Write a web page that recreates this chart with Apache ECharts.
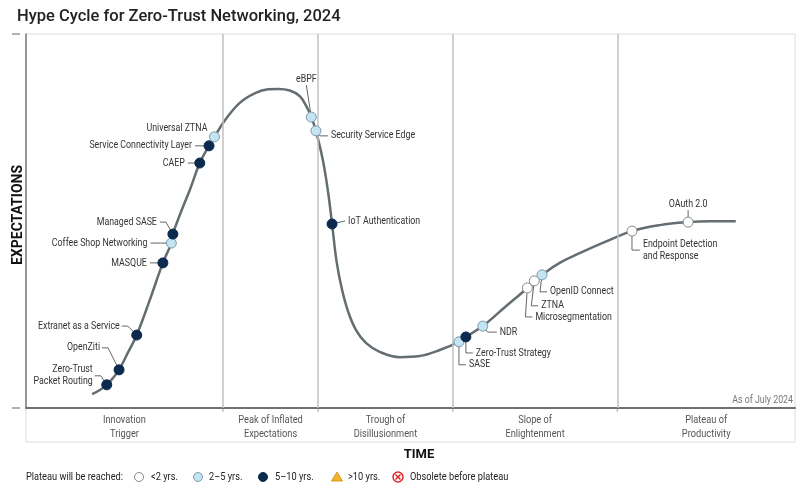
<!DOCTYPE html>
<html><head><meta charset="utf-8">
<script src="https://cdn.jsdelivr.net/npm/echarts@6.0.0/dist/echarts.min.js"></script>
<style>html,body{margin:0;padding:0;background:#fff}#c{width:800px;height:489px}</style>
</head><body><div id="c"></div>
<script>
// ---- data (time / expectations on an abstract 0–100 scale) ----
const curveTime = [8.6,9.6,10.5,11.3,12.1,13.3,14.4,16.1,17.8,18.9,19.1,20.0,21.3,22.6,23.8,24.5,25.9,27.8,29.8,31.5,32.8,34.3,35.6,36.5,37.1,37.7,38.6,39.3,39.8,40.4,41.1,41.9,42.9,44.2,46.0,48.6,51.2,53.8,56.3,57.2,59.4,62.3,65.2,66.1,67.1,69.4,72.0,75.3,78.8,82.4,86.1,89.0,92.3];
const curveExp  = [3.7,4.8,6.2,8.0,10.2,15.0,19.5,28.9,38.8,44.1,46.5,51.6,58.3,65.5,70.1,72.5,77.0,81.6,84.2,85.2,85.3,84.9,83.4,80.5,77.8,74.1,66.3,57.5,49.2,39.0,31.6,25.7,20.9,17.4,15.0,13.6,13.9,15.5,17.7,19.0,21.9,27.0,32.1,34.0,35.6,38.8,41.4,44.4,47.3,48.9,49.7,49.9,49.9];

const techNames = ['Zero-Trust\nPacket Routing','OpenZiti','Extranet as a Service','MASQUE','Coffee Shop Networking','Managed SASE','CAEP','Service Connectivity Layer','Universal ZTNA','eBPF','Security Service Edge','IoT Authentication','SASE','Zero-Trust Strategy','NDR','Microsegmentation','ZTNA','OpenID Connect','Endpoint Detection\nand Response','OAuth 2.0'];
const techTime = [10.5,12.1,14.4,17.8,18.9,19.1,22.6,23.8,24.5,37.1,37.7,39.8,56.3,57.2,59.4,65.2,66.1,67.1,78.8,86.1];
const techExp  = [6.2,10.2,19.5,38.8,44.1,46.5,65.5,70.1,72.5,77.8,74.1,49.2,17.7,19.0,21.9,32.1,34.0,35.6,47.3,49.7];
// plateau category: 0 = <2 yrs, 1 = 2–5 yrs, 2 = 5–10 yrs
const techPlateau = [2,2,2,2,1,2,2,2,1,1,1,2,1,2,1,0,0,1,0,0];

const phaseNames = ['Innovation\nTrigger','Peak of Inflated\nExpectations','Trough of\nDisillusionment','Slope of\nEnlightenment','Plateau of\nProductivity'];
const phaseBounds = [25.6, 38.0, 55.5, 76.9];
const legendTitle = 'Plateau will be reached:';
const legendLabels = ['<2 yrs.','2\u20135 yrs.','5\u201310 yrs.','>10 yrs.','Obsolete before plateau'];

// ---- styling / label layout (not data) ----
const FONT = "Roboto, sans-serif";
const SQ = 0.84; // horizontal condensing of the small labels
const fills = ['#ffffff','#c3e4f3','#0b2a4e'];
const strokes = ['#8a8a8a','#7f9ca8','#0b2a4e'];
const labelLayouts = [
  {lead:[[0,0],[-6,-9],[-12,-9]], t:[-14,-9], a:'right'},
  {lead:[[0,0],[-11,-22],[-17,-22]], t:[-19,-22], a:'right'},
  {lead:[[0,0],[-9,-9],[-15,-9]], t:[-17,-9], a:'right'},
  {lead:[[0,0],[-13,0]], t:[-16,0], a:'right'},
  {lead:[[0,0],[-21,0]], t:[-24,0], a:'right'},
  {lead:[[0,0],[-7,-12],[-13,-12]], t:[-16,-12], a:'right'},
  {lead:[[0,0],[-12,0]], t:[-15,0], a:'right'},
  {lead:[[0,0],[-14,0]], t:[-17,0], a:'right'},
  {lead:[], t:[-7,-8], a:'right'},
  {lead:[[0,0],[-5,-32]], t:[-5,-38], a:'center'},
  {lead:[[0,0],[4,5],[12,5]], t:[15,5], a:'left'},
  {lead:[[0,0],[13,-3]], t:[16,-3], a:'left'},
  {lead:[[0,0],[0,23],[7,23]], t:[10,23], a:'left'},
  {lead:[[0,0],[0,16],[7,16]], t:[10,16], a:'left'},
  {lead:[[0,0],[5,6],[14,6]], t:[17,6], a:'left'},
  {lead:[[0,0],[-2,29],[5,29]], t:[8,29], a:'left'},
  {lead:[[0,0],[-3,25],[4,25]], t:[7,25], a:'left'},
  {lead:[[0,0],[-2,17],[5,17]], t:[8,17], a:'left'},
  {lead:[[0,0],[0,19],[8,19]], t:[11,19], a:'left'},
  {lead:[[0,0],[0,-12]], t:[0,-18], a:'center'}
];

const chart = echarts.init(document.getElementById('c'), null, {renderer:'canvas'});
const GRID = {left:26, right:5, top:34, bottom:81};

chart.setOption({
  animation:false,
  backgroundColor:'#fff',
  title:{text:'Hype Cycle for Zero-Trust Networking, 2024', left:12, top:3,
    textStyle:{fontFamily:'Roboto', fontSize:16.5, fontWeight:500, color:'#222'}},
  grid:{left:GRID.left, right:GRID.right, top:GRID.top, bottom:GRID.bottom, show:true, borderColor:'#dddddd', borderWidth:1},
  xAxis:{type:'value', min:0, max:100, axisLabel:{show:false}, axisTick:{show:false}, splitLine:{show:false},
    axisLine:{show:true, onZero:false, lineStyle:{color:'#707070', width:2}}},
  yAxis:{type:'value', min:0, max:100, axisLabel:{show:false}, axisTick:{show:false}, splitLine:{show:false},
    axisLine:{show:true, onZero:false, lineStyle:{color:'#7a7a7a', width:1.5}}},
  series:[
    {type:'line', silent:true, symbol:'none', smooth:0.4, z:2,
     data: curveTime.map((t,i)=>[t, curveExp[i]]),
     lineStyle:{color:'#646d71', width:2.5},
     markLine:{silent:true, symbol:'none', label:{show:false},
       lineStyle:{color:'#c2c2c2', width:1.5, type:'solid'},
       data: phaseBounds.map(b=>({xAxis:b}))}},
    {type:'custom', z:5,
     data: techTime.map((t,i)=>[t, techExp[i], techPlateau[i]]),
     renderItem:function(params, api){
       const i = params.dataIndex;
       const p = api.coord([api.value(0), api.value(1)]);
       const cat = api.value(2);
       const L = labelLayouts[i];
       const ch = [];
       if (L.lead.length > 1) ch.push({type:'polyline', shape:{points:L.lead.map(d=>[p[0]+d[0], p[1]+d[1]])},
         style:{stroke:'#666', lineWidth:1, fill:null}});
       ch.push({type:'circle', shape:{cx:p[0], cy:p[1], r:5}, style:{fill:fills[cat], stroke:strokes[cat], lineWidth:1}});
       ch.push({type:'text', x:p[0]+L.t[0], y:p[1]+L.t[1], scaleX:SQ,
         style:{text:techNames[i], align:L.a, verticalAlign:'middle', fontFamily:FONT, fontSize:10.5, lineHeight:12, fill:'#333'}});
       return {type:'group', children:ch};
     }}
  ]
});

// ---- decorations built from the axes ----
const x0 = chart.convertToPixel({xAxisIndex:0}, 0);
const x1 = chart.convertToPixel({xAxisIndex:0}, 100);
const yB = chart.convertToPixel({yAxisIndex:0}, 0);
const yT = chart.convertToPixel({yAxisIndex:0}, 100);
const edges = [0].concat(phaseBounds, [100]);
const g = [];
g.push({type:'rect', shape:{x:x0, y:yB, width:x1-x0, height:34}, style:{fill:null, stroke:'#dddddd', lineWidth:1}, z:-1});
phaseBounds.forEach(b=>{
  const xp = chart.convertToPixel({xAxisIndex:0}, b);
  g.push({type:'line', shape:{x1:xp, y1:yB, x2:xp, y2:yB+4}, style:{stroke:'#c2c2c2', lineWidth:1.5}});
});
phaseNames.forEach((n,i)=>{
  const xc = (chart.convertToPixel({xAxisIndex:0}, edges[i]) + chart.convertToPixel({xAxisIndex:0}, edges[i+1]))/2;
  g.push({type:'text', x:xc, y:yB+19, scaleX:SQ, style:{text:n, align:'center', verticalAlign:'middle', fontFamily:FONT, fontSize:11, lineHeight:14, fill:'#555'}});
});
g.push({type:'line', shape:{x1:12, y1:yT, x2:20, y2:yT}, style:{stroke:'#999', lineWidth:1.5}});
g.push({type:'line', shape:{x1:12, y1:yB, x2:20, y2:yB}, style:{stroke:'#999', lineWidth:1.5}});
g.push({type:'text', x:x1-2, y:yB-8, scaleX:SQ, style:{text:'As of July 2024', align:'right', verticalAlign:'middle', fontFamily:FONT, fontSize:10.5, fill:'#777'}});
g.push({type:'text', x:419, y:455, style:{text:'TIME', align:'center', verticalAlign:'middle', fontFamily:'Roboto', fontWeight:'bold', fontSize:13, fill:'#111'}});
g.push({type:'text', x:18, y:215, rotation:Math.PI/2, style:{text:'EXPECTATIONS', align:'center', verticalAlign:'middle', fontFamily:'Roboto', fontWeight:'bold', fontSize:14, fill:'#111'}});

// legend
const LY = 477;
const legFont = {fontFamily:FONT, fontSize:11, fill:'#222', verticalAlign:'middle'};
g.push({type:'text', x:26, y:LY, scaleX:SQ, style:Object.assign({text:legendTitle}, legFont)});
const legItems = [
  {cx:139, tx:151, kind:'c', fill:'#fff', stroke:'#8a8a8a'},
  {cx:198, tx:209, kind:'c', fill:'#c3e4f3', stroke:'#7f9ca8'},
  {cx:263, tx:275, kind:'c', fill:'#0b2a4e', stroke:'#0b2a4e'},
  {cx:337, tx:348, kind:'t', fill:'#f3b42a', stroke:'#c98d10'},
  {cx:398, tx:410, kind:'x', fill:'#fff', stroke:'#e0262c'}
];
legItems.forEach((it,i)=>{
  if (it.kind==='c') g.push({type:'circle', shape:{cx:it.cx, cy:LY, r:4.5}, style:{fill:it.fill, stroke:it.stroke, lineWidth:1}});
  else if (it.kind==='t') g.push({type:'polygon', shape:{points:[[it.cx,LY-5],[it.cx+5.5,LY+4],[it.cx-5.5,LY+4]]}, style:{fill:it.fill, stroke:it.stroke, lineWidth:0.8}});
  else {
    g.push({type:'circle', shape:{cx:it.cx, cy:LY, r:5}, style:{fill:'#fff', stroke:it.stroke, lineWidth:1.5}});
    g.push({type:'line', shape:{x1:it.cx-2.5, y1:LY-2.5, x2:it.cx+2.5, y2:LY+2.5}, style:{stroke:it.stroke, lineWidth:1.5}});
    g.push({type:'line', shape:{x1:it.cx-2.5, y1:LY+2.5, x2:it.cx+2.5, y2:LY-2.5}, style:{stroke:it.stroke, lineWidth:1.5}});
  }
  g.push({type:'text', x:it.tx, y:LY, scaleX:SQ, style:Object.assign({text:legendLabels[i]}, legFont)});
});
chart.setOption({graphic:{elements:g}});
</script>
</body></html>
